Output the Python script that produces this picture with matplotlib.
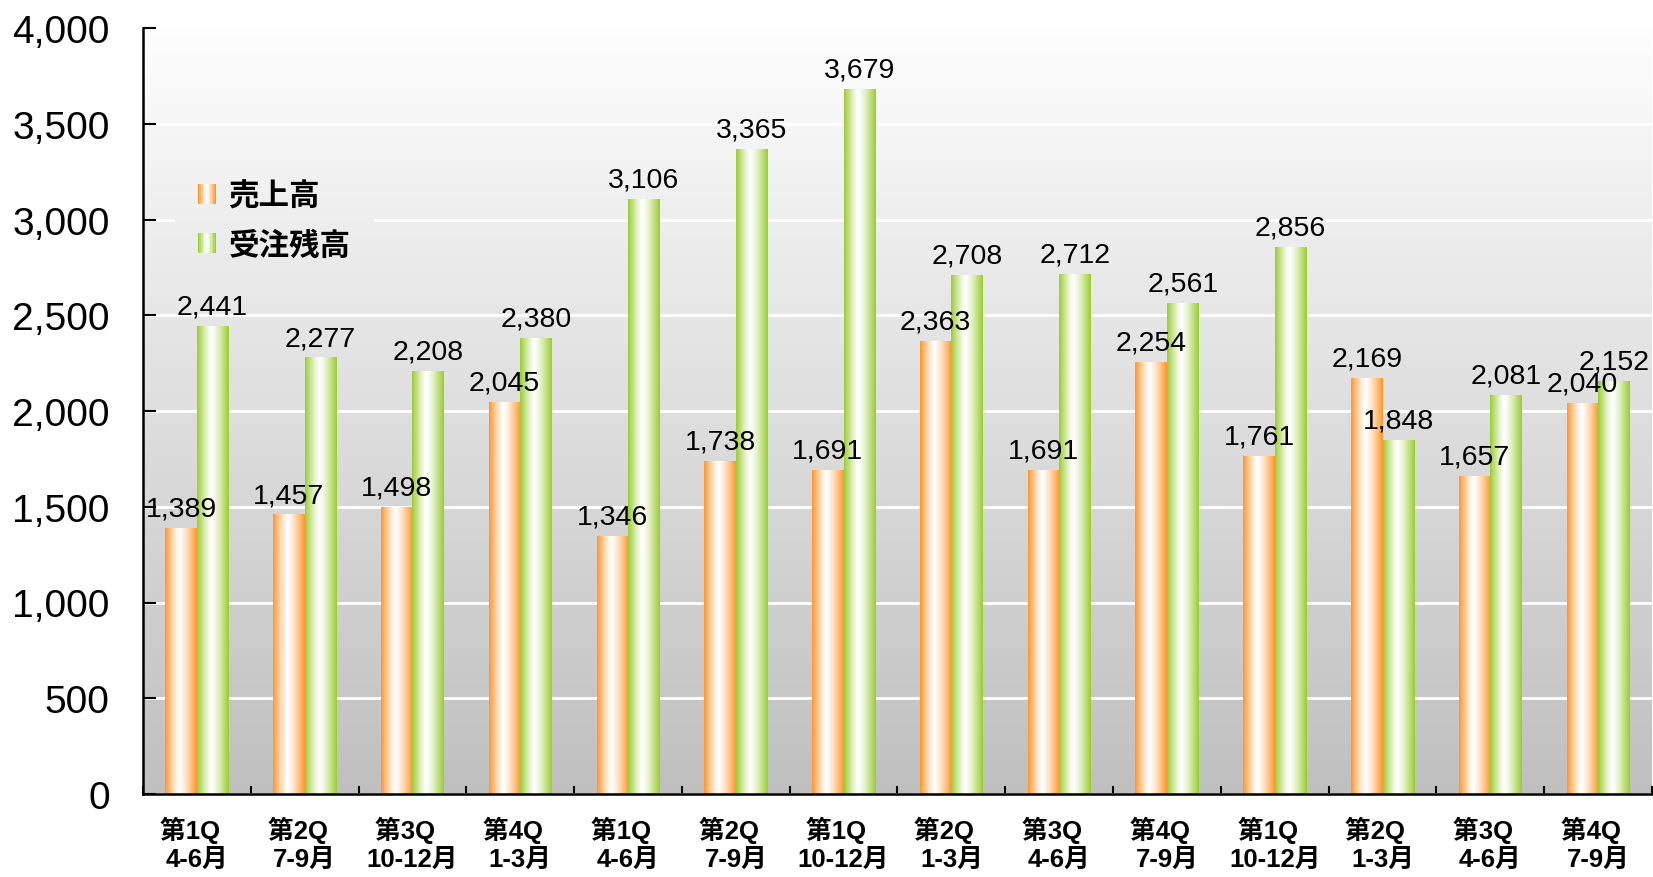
import numpy as np
import matplotlib
matplotlib.use("Agg")
from matplotlib import pyplot as plt
from matplotlib import font_manager
from matplotlib.patches import Rectangle, Patch
from matplotlib.legend_handler import HandlerBase

# data
quarters = ["第1Q", "第2Q", "第3Q", "第4Q", "第1Q", "第2Q", "第1Q",
            "第2Q", "第3Q", "第4Q", "第1Q", "第2Q", "第3Q", "第4Q"]
months = ["4-6月", "7-9月", "10-12月", "1-3月", "4-6月", "7-9月", "10-12月",
          "1-3月", "4-6月", "7-9月", "10-12月", "1-3月", "4-6月", "7-9月"]
sales = [1389, 1457, 1498, 2045, 1346, 1738, 1691, 2363, 1691, 2254, 1761, 2169, 1657, 2040]
backlog = [2441, 2277, 2208, 2380, 3106, 3365, 3679, 2708, 2712, 2561, 2856, 1848, 2081, 2152]
series_names = ["売上高", "受注残高"]

orange = np.array([255, 150, 45]) / 255.0
green = np.array([154, 205, 50]) / 255.0

names = set(f.name for f in font_manager.fontManager.ttflist)
num_font = "Liberation Sans Narrow" if "Liberation Sans Narrow" in names else "Liberation Sans"
fam = [num_font, "Noto Sans CJK JP", "DejaVu Sans"]
plt.rcParams['font.family'] = fam


def grad_row(edge, n=64):
    t = np.linspace(0, 1, n)
    c = 0.45
    s = np.where(t < c, (c - t) / c, (t - c) / (1 - c))
    s = s ** 1.3
    return (1 - s)[:, None] * np.ones(3) + s[:, None] * edge


class GradHandler(HandlerBase):
    def __init__(self, edge):
        super().__init__()
        self.edge = edge

    def create_artists(self, legend, orig_handle, xdescent, ydescent,
                       width, height, fontsize, trans):
        cols = grad_row(self.edge, 12)
        w = width / len(cols)
        arts = []
        for i, col in enumerate(cols):
            arts.append(Rectangle((-xdescent + i * w, -ydescent), w * 1.05, height,
                                  facecolor=col, edgecolor='none', lw=0, transform=trans))
        return arts


fig = plt.figure(figsize=(16.53, 8.78), dpi=100)
ax = fig.add_axes([143 / 1653, 83 / 878, 1509 / 1653, 766 / 878])

# background gradient
bg = np.linspace(0.995, 0.75, 256)[:, None] * np.ones((1, 2))
bg_img = np.dstack([bg, bg, bg])
ax.imshow(bg_img, extent=[0, 1, 0, 1], transform=ax.transAxes,
          aspect='auto', zorder=0, interpolation='bilinear')

x = np.arange(len(sales))
w = 0.292
b1 = ax.bar(x - w / 2, sales, w, facecolor='none', edgecolor='none', zorder=2)
b2 = ax.bar(x + w / 2, backlog, w, facecolor='none', edgecolor='none', zorder=2)

img_o = grad_row(orange)[None, :, :]
img_g = grad_row(green)[None, :, :]
for bars, img in ((b1, img_o), (b2, img_g)):
    for r in bars:
        x0 = r.get_x()
        ax.imshow(img, extent=[x0, x0 + r.get_width(), 0, r.get_height()],
                  aspect='auto', zorder=2, interpolation='bilinear')

for bars, vals in ((b1, sales), (b2, backlog)):
    for r, v in zip(bars, vals):
        ax.annotate(f"{v:,}", (r.get_x() + r.get_width() / 2, v), xytext=(0, 5),
                    textcoords='offset points', ha='center', va='bottom',
                    fontsize=20.5, zorder=5)

ax.set_xlim(-0.5, len(sales) - 0.5)
ax.set_ylim(0, 4000)
ax.set_yticks(np.arange(0, 4001, 500))
ax.set_yticklabels([f"{v:,}" for v in range(0, 4001, 500)], fontsize=28)
ax.set_xticks(x)
ax.set_xticklabels([q + "  \n" + m for q, m in zip(quarters, months)],
                   fontsize=18.5, fontweight='bold', linespacing=1.2)
ax.set_xticks(np.arange(-0.5, len(sales)), minor=True)
ax.tick_params(axis='x', which='major', length=0, pad=16)
ax.tick_params(axis='x', which='minor', direction='in', length=6, width=1.5)
ax.tick_params(axis='y', direction='in', length=9, width=1.5, pad=24)

ax.grid(axis='y', color='white', linewidth=2)
ax.set_axisbelow(True)
for s in ('top', 'right'):
    ax.spines[s].set_visible(False)
for s in ('left', 'bottom'):
    ax.spines[s].set_linewidth(1.8)
    ax.spines[s].set_color('black')

h1 = Patch(label=series_names[0])
h2 = Patch(label=series_names[1])
leg = ax.legend([h1, h2], series_names, loc='upper left',
                bbox_to_anchor=((175 - 143) / 1509, (795 - 160) / 766),
                borderaxespad=0, borderpad=0.75, handlelength=0.6, handleheight=0.6,
                handletextpad=0.4, labelspacing=0.62, frameon=False,
                prop={'family': fam, 'size': 22, 'weight': 'bold'},
                handler_map={h1: GradHandler(orange), h2: GradHandler(green)})
leg.set_zorder(4)

# hide gridlines behind the legend with a piece of the background
fig.canvas.draw()
bb = leg.get_window_extent().transformed(ax.transAxes.inverted())
cover = ax.imshow(bg_img, extent=[0, 1, 0, 1], transform=ax.transAxes,
                  aspect='auto', zorder=1, interpolation='bilinear')
clip = Rectangle((bb.x0, bb.y0), bb.width, bb.height, transform=ax.transAxes)
cover.set_clip_path(clip)

fig.savefig("out.png", dpi=100)
